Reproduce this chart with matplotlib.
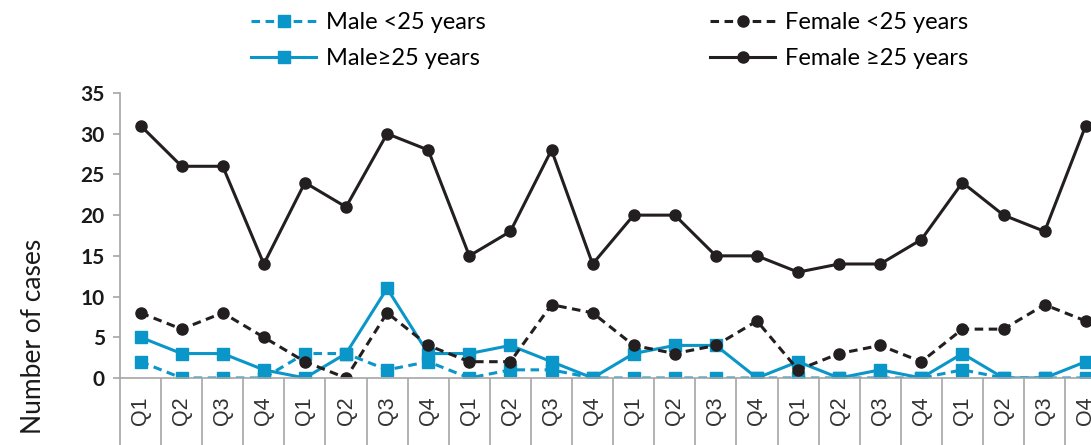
import matplotlib
matplotlib.use('Agg')
import matplotlib.pyplot as plt
import numpy as np

quarters = ['Q1', 'Q2', 'Q3', 'Q4'] * 6

male_u25 = [2, 0, 0, 0, 3, 3, 1, 2, 0, 1, 1, 0, 0, 0, 0, 0, 0, 0, 0, 0, 1, 0, 0, 0]
male_25 = [5, 3, 3, 1, 0, 3, 11, 3, 3, 4, 2, 0, 3, 4, 4, 0, 2, 0, 1, 0, 3, 0, 0, 2]
female_u25 = [8, 6, 8, 5, 2, 0, 8, 4, 2, 2, 9, 8, 4, 3, 4, 7, 1, 3, 4, 2, 6, 6, 9, 7]
female_25 = [31, 26, 26, 14, 24, 21, 30, 28, 15, 18, 28, 14, 20, 20, 15, 15, 13, 14, 14, 17, 24, 20, 18, 31]

blue = '#0a96c8'
black = '#231f20'
grey = '#a6a6a6'

plt.rcParams['font.family'] = ['Lato', 'DejaVu Sans']

fig = plt.figure(figsize=(10.91, 4.45), dpi=100)
ax = fig.add_axes([0.11, 0.1506, 0.904, 0.6404])

x = np.arange(len(quarters))
dash = (0, (2.8, 1.8))
l1, = ax.plot(x, male_u25, color=blue, lw=2.2, ls=dash, marker='s', ms=8.5, label='Male <25 years')
l2, = ax.plot(x, male_25, color=blue, lw=2.2, marker='s', ms=8.5, label='Male≥25 years')
l3, = ax.plot(x, female_u25, color=black, lw=2.2, ls=dash, marker='o', ms=8, label='Female <25 years')
l4, = ax.plot(x, female_25, color=black, lw=2.2, marker='o', ms=8, label='Female ≥25 years')

ax.set_xlim(-0.5, len(quarters) - 0.5)
ax.set_ylim(0, 35)
ax.set_yticks(range(0, 36, 5))
ax.set_yticklabels([str(v) for v in range(0, 36, 5)], fontsize=15, fontweight='bold', color='#1a1a1a')

ax.set_xticks(x)
ax.set_xticklabels(quarters, rotation=90, fontsize=15.5, color='#333333', family=['Liberation Sans', 'DejaVu Sans'])
ax.set_xticks(np.arange(-0.5, len(quarters), 1), minor=True)
ax.tick_params(axis='x', which='major', length=0, pad=13)
ax.tick_params(axis='x', which='minor', length=60, color=grey, width=1.2)
ax.tick_params(axis='y', length=5, color=grey, width=1.2, pad=6)

for s in ['top', 'right']:
    ax.spines[s].set_visible(False)
for s in ['left', 'bottom']:
    ax.spines[s].set_color(grey)
    ax.spines[s].set_linewidth(1.2)

fig.text(0.031, 0.245, 'Number of cases', rotation=90, fontsize=19, color='#1a1a1a', ha='center', va='center')

fig.legend(handles=[l1, l2, l3, l4], ncol=2, frameon=False, fontsize=17,
           loc='upper left', bbox_to_anchor=(0.211, 1.02), handlelength=2.75,
           columnspacing=9.5, labelspacing=0.62, handletextpad=0.42)

fig.savefig('out.png', dpi=100)
